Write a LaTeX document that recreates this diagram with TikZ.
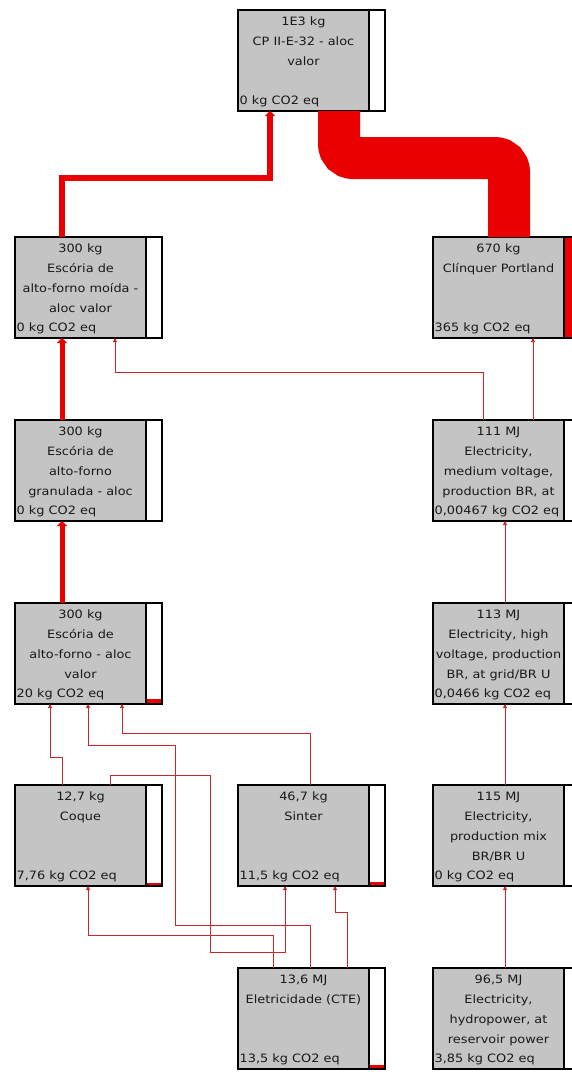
\documentclass[tikz,border=0pt]{standalone}
\usepackage{fontspec}
\newfontfamily\boxfont[FakeStretch=1.12]{DejaVu Sans}
\definecolor{boxgrey}{RGB}{196,196,196}
\definecolor{flowred}{RGB}{235,0,0}
\definecolor{linkred}{RGB}{200,40,40}
\definecolor{textgrey}{RGB}{25,25,25}
\usetikzlibrary{arrows.meta,calc}

\tikzset{
    procbox/.style={draw=black, line width=1.2pt, fill=boxgrey, anchor=north west,
        minimum width=147pt, minimum height=101pt, inner sep=0pt, outer sep=0pt},
    indbar/.style={draw=black, line width=1.2pt, fill=white, anchor=north east,
        minimum width=16pt, minimum height=101pt, inner sep=0pt, outer sep=0pt},
    boxtext/.style={anchor=north, align=center, inner sep=0pt, text=textgrey,
        font=\boxfont\fontsize{11.5}{20}\selectfont},
    co2text/.style={anchor=south west, inner sep=0pt, text=textgrey,
        font=\boxfont\fontsize{11.5}{20}\selectfont},
    link/.style={draw=linkred, line width=1pt, -{Triangle[length=4pt,width=4pt]}},
    mainflow/.style={draw=flowred, line width=#1, -{Triangle[length=5pt,width=10pt]}},
}

% process box: name, x, y, text, CO2 line, height of red fill
\newcommand{\procbox}[6]{%
    \node[procbox] (#1) at (#2,-#3) {};
    \node[boxtext] (#1-txt) at ([xshift=65.5pt,yshift=-7pt]#1.north west) {#4};
    \node[co2text] (#1-co2) at ([xshift=1.5pt,yshift=4pt]#1.south west) {#5};
    \node[indbar] (#1-bar) at (#1.north east) {};
    \ifdim#6>0pt
        \fill[flowred] ([xshift=0.6pt,yshift=0.6pt]#1-bar.south west) rectangle ([xshift=-0.6pt,yshift=#6]#1-bar.south east);
    \fi
}

\begin{document}
\begin{tikzpicture}[x=1pt,y=1pt]
    \useasboundingbox (0,0) rectangle (572,-1072);
    \fill[white] (0,0) rectangle (572,-1072);
    \clip (0,0) rectangle (572,-1072);

    \procbox{cp}{238}{10}{1E3 kg\\CP II-E-32 - aloc\\valor}{0 kg CO2 eq}{0pt}
    \procbox{escmoida}{15}{237}{300 kg\\Escória de\\alto-forno moída -\\aloc valor}{0 kg CO2 eq}{0pt}
    \procbox{clinquer}{433}{237}{670 kg\\Clínquer Portland}{365 kg CO2 eq}{100pt}
    \procbox{escgran}{15}{420}{300 kg\\Escória de\\alto-forno\\granulada - aloc}{0 kg CO2 eq}{0pt}
    \procbox{elmed}{433}{420}{111 MJ\\Electricity,\\medium voltage,\\production BR, at}{0,00467 kg CO2 eq}{0pt}
    \procbox{escaf}{15}{603}{300 kg\\Escória de\\alto-forno - aloc\\valor}{20 kg CO2 eq}{5pt}
    \procbox{elhigh}{433}{603}{113 MJ\\Electricity, high\\voltage, production\\BR, at grid/BR U}{0,0466 kg CO2 eq}{0pt}
    \procbox{coque}{15}{785}{12,7 kg\\Coque}{7,76 kg CO2 eq}{3pt}
    \procbox{sinter}{238}{785}{46,7 kg\\Sinter}{11,5 kg CO2 eq}{4pt}
    \procbox{elmix}{433}{785}{115 MJ\\Electricity,\\production mix\\BR/BR U}{0 kg CO2 eq}{0pt}
    \procbox{eletcte}{238}{968}{13,6 MJ\\Eletricidade (CTE)}{13,5 kg CO2 eq}{4pt}
    \procbox{hydro}{433}{968}{96,5 MJ\\Electricity,\\hydropower, at\\reservoir power}{3,85 kg CO2 eq}{0pt}

    % main flows
    \draw[flowred, line width=42pt, rounded corners=14pt] ([xshift=76pt]clinquer.north west) -- ++(0,79) -| ([xshift=101pt]cp.south west);
    \draw[mainflow=6pt] ([xshift=47pt]escmoida.north west) -- ++(0,59) -| ([xshift=32pt]cp.south west);
    \draw[mainflow=5pt] ([xshift=47pt]escgran.north west) -- ([xshift=47pt]escmoida.south west);
    \draw[mainflow=5pt] ([xshift=47pt]escaf.north west) -- ([xshift=47pt]escgran.south west);

    % electricity chain
    \draw[link] ([xshift=50pt]elmed.north west) -- ++(0,48) -| ([xshift=100pt]escmoida.south west);
    \draw[link] ([xshift=100pt]elmed.north west) -- ([xshift=100pt]clinquer.south west);
    \draw[link] ([xshift=72pt]elhigh.north west) -- ([xshift=72pt]elmed.south west);
    \draw[link] ([xshift=72pt]elmix.north west) -- ([xshift=72pt]elhigh.south west);
    \draw[link] ([xshift=72pt]hydro.north west) -- ([xshift=72pt]elmix.south west);

    % slag inputs
    \draw[link] ([xshift=47pt]coque.north west) -- ++(0,28) -| ([xshift=35pt]escaf.south west);
    \draw[link] ([xshift=72pt]sinter.north west) -- ++(0,52) -| ([xshift=107pt]escaf.south west);
    \draw[link] ([xshift=72pt]eletcte.north west) -- ++(0,43) -- ++(-135,0) -- ++(0,180) -| ([xshift=73pt]escaf.south west);
    \draw[link] ([xshift=95pt]coque.north west) -- ++(0,10) -- ++(100,0) -- ++(0,-177) -| ([xshift=47pt]sinter.south west);
    \draw[link] ([xshift=35pt]eletcte.north west) -- ++(0,33) -| ([xshift=73pt]coque.south west);
    \draw[link] ([xshift=109pt]eletcte.north west) -- ++(0,56) -| ([xshift=97pt]sinter.south west);
\end{tikzpicture}
\end{document}
